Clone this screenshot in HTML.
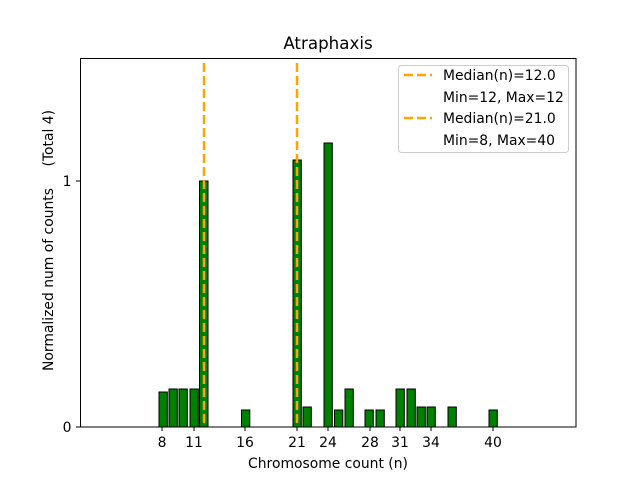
<!DOCTYPE html>
<html><head><style>body{margin:0;background:#fff}svg{display:block}</style></head><body>
<svg width="640" height="480" xmlns="http://www.w3.org/2000/svg" font-family="DejaVu Sans, Liberation Sans, sans-serif">
<rect width="640" height="480" fill="#fff"/>
<g fill="#008000" stroke="#000" stroke-width="1">
<rect x="159" y="392" width="8.3" height="35"/>
<rect x="169" y="389" width="8.3" height="38"/>
<rect x="179" y="389" width="8.3" height="38"/>
<rect x="190" y="389" width="8.3" height="38"/>
<rect x="199.5" y="181" width="8.5" height="246"/>
<rect x="241.5" y="410" width="8.3" height="17"/>
<rect x="293" y="160" width="8.3" height="267"/>
<rect x="303" y="407" width="8.3" height="20"/>
<rect x="324" y="143" width="8.3" height="284"/>
<rect x="334.5" y="410" width="8.3" height="17"/>
<rect x="345" y="389" width="8.3" height="38"/>
<rect x="365" y="410" width="8.3" height="17"/>
<rect x="376" y="410" width="8.3" height="17"/>
<rect x="396" y="389" width="8.3" height="38"/>
<rect x="407" y="389" width="8.3" height="38"/>
<rect x="417" y="407" width="8.3" height="20"/>
<rect x="427" y="407" width="8.3" height="20"/>
<rect x="448" y="407" width="8.3" height="20"/>
<rect x="489" y="410" width="8.3" height="17"/>
</g>
<g stroke="#FFA500" stroke-width="2.5" stroke-dasharray="9,4">
<line x1="204" y1="63" x2="204" y2="427"/>
<line x1="297" y1="63" x2="297" y2="427"/>
</g>
<rect x="80.5" y="58.5" width="495.5" height="368.5" fill="none" stroke="#000" stroke-width="1"/>
<g stroke="#000" stroke-width="1">
<line x1="162" y1="427" x2="162" y2="431"/><line x1="194" y1="427" x2="194" y2="431"/>
<line x1="245" y1="427" x2="245" y2="431"/><line x1="297" y1="427" x2="297" y2="431"/>
<line x1="328" y1="427" x2="328" y2="431"/><line x1="370" y1="427" x2="370" y2="431"/>
<line x1="400" y1="427" x2="400" y2="431"/><line x1="431" y1="427" x2="431" y2="431"/>
<line x1="493" y1="427" x2="493" y2="431"/>
<line x1="76" y1="427" x2="80" y2="427"/><line x1="76" y1="181" x2="80" y2="181"/>
</g>
<g font-size="13.9" fill="#000" text-anchor="middle">
<text x="162" y="447">8</text><text x="194" y="447">11</text><text x="245" y="447">16</text>
<text x="297" y="447">21</text><text x="328" y="447">24</text><text x="370" y="447">28</text>
<text x="400" y="447">31</text><text x="431" y="447">34</text><text x="493" y="447">40</text>
<text x="328" y="468">Chromosome count (n)</text>
<text x="67" y="432">0</text><text x="67" y="186">1</text>
<text transform="translate(53,188) rotate(-90)" text-anchor="end">Normalized num of counts</text>
<text transform="translate(53,110) rotate(-90)" text-anchor="end">(Total 4)</text>
</g>
<text x="328" y="49" font-size="16.7" text-anchor="middle">Atraphaxis</text>
<rect x="398.5" y="65.5" width="170" height="87" rx="3" fill="#fff" fill-opacity="0.8" stroke="#ccc"/>
<g stroke="#FFA500" stroke-width="2.5" stroke-dasharray="9,4">
<line x1="404" y1="75" x2="432" y2="75"/>
<line x1="404" y1="118" x2="432" y2="118"/>
</g>
<g font-size="13.9" fill="#000">
<text x="443" y="80">Median(n)=12.0</text>
<text x="443" y="102">Min=12, Max=12</text>
<text x="443" y="123">Median(n)=21.0</text>
<text x="443" y="145">Min=8, Max=40</text>
</g>
</svg>
</body></html>
